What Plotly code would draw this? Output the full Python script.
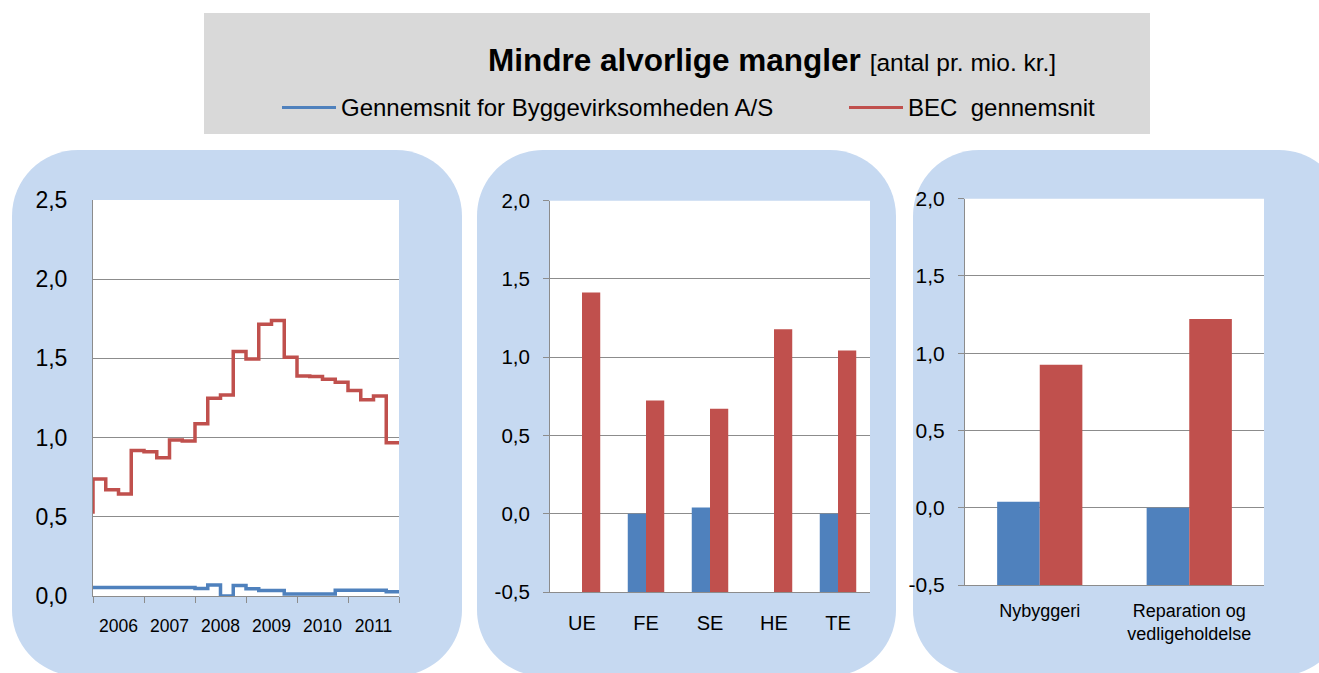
import plotly.graph_objects as go

W, H = 1319, 673

# ---------------- data ----------------
quarters = ["2006K1", "2006K2", "2006K3", "2006K4",
            "2007K1", "2007K2", "2007K3", "2007K4",
            "2008K1", "2008K2", "2008K3", "2008K4",
            "2009K1", "2009K2", "2009K3", "2009K4",
            "2010K1", "2010K2", "2010K3", "2010K4",
            "2011K1", "2011K2", "2011K3", "2011K4"]
years = ["2006", "2007", "2008", "2009", "2010", "2011"]

bec_start = 0.52
bec_quarterly = [0.739, 0.671, 0.644, 0.918, 0.911, 0.873, 0.985, 0.979,
                 1.088, 1.248, 1.269, 1.543, 1.496, 1.715, 1.740, 1.507,
                 1.389, 1.385, 1.368, 1.350, 1.298, 1.239, 1.263, 0.968]
byg_quarterly = [0.053, 0.053, 0.053, 0.053, 0.053, 0.053, 0.053, 0.053,
                 0.048, 0.069, 0.000, 0.067, 0.046, 0.034, 0.034, 0.013,
                 0.013, 0.013, 0.013, 0.036, 0.036, 0.036, 0.036, 0.027]

trades = ["UE", "FE", "SE", "HE", "TE"]
byg_trade = [None, 0.00, 0.04, None, 0.00]
bec_trade = [1.414, 0.723, 0.670, 1.179, 1.043]

work_types = ["Nybyggeri", "Reparation og<br>vedligeholdelse"]
byg_type = [0.039, 0.000]
bec_type = [0.925, 1.221]

line_ticks = [0.0, 0.5, 1.0, 1.5, 2.0, 2.5]
line_ticklabels = ["0,0", "0,5", "1,0", "1,5", "2,0", "2,5"]
bar_ticks = [-0.5, 0.0, 0.5, 1.0, 1.5, 2.0]
bar_ticklabels = ["-0,5", "0,0", "0,5", "1,0", "1,5", "2,0"]

name_byg = "Gennemsnit for Byggevirksomheden A/S"
name_bec = "BEC  gennemsnit"

BLUE = "#4F81BD"
RED = "#C0504D"
PANEL = "#C6D9F1"
HEADER = "#D9D9D9"
GRID = "#8C8C8C"
FONT = "Liberation Sans, Arial, sans-serif"


def qx(label):
    return int(label[:4]) + (int(label[-1]) - 1) / 4.0


x_q = [qx(q) for q in quarters]
x_end = int(years[-1]) + 1

# step series (hv)
bec_x = [x_q[0]] + x_q + [x_end]
bec_y = [bec_start] + bec_quarterly + [bec_quarterly[-1]]
byg_x = x_q + [x_end]
byg_y = byg_quarterly + [byg_quarterly[-1]]

AXMIN_BAR = bar_ticks[0]


def bar_len(vals):
    return [None if v is None else v - AXMIN_BAR for v in vals]


fig = go.Figure()

fig.add_trace(go.Scatter(x=byg_x, y=byg_y, mode="lines", line_shape="hv",
                         line=dict(color=BLUE, width=3.5), name=name_byg,
                         xaxis="x", yaxis="y", showlegend=False))
fig.add_trace(go.Scatter(x=bec_x, y=bec_y, mode="lines", line_shape="hv",
                         line=dict(color=RED, width=3.5), name=name_bec,
                         xaxis="x", yaxis="y", showlegend=False))

fig.add_trace(go.Bar(x=trades, y=bar_len(byg_trade), base=AXMIN_BAR,
                     marker=dict(color=BLUE, line=dict(width=0)), name=name_byg,
                     xaxis="x2", yaxis="y2", showlegend=False))
fig.add_trace(go.Bar(x=trades, y=bar_len(bec_trade), base=AXMIN_BAR,
                     marker=dict(color=RED, line=dict(width=0)), name=name_bec,
                     xaxis="x2", yaxis="y2", showlegend=False))

fig.add_trace(go.Bar(x=work_types, y=bar_len(byg_type), base=AXMIN_BAR,
                     marker=dict(color=BLUE, line=dict(width=0)), name=name_byg,
                     xaxis="x3", yaxis="y3", showlegend=False))
fig.add_trace(go.Bar(x=work_types, y=bar_len(bec_type), base=AXMIN_BAR,
                     marker=dict(color=RED, line=dict(width=0)), name=name_bec,
                     xaxis="x3", yaxis="y3", showlegend=False))


def fx(p):
    return p / W


def fy(p):
    return 1 - p / H


def rounded(x0, y0, x1, y1, r):
    k = 0.5523 * r

    def P(x, y):
        return f"{fx(x):.5f},{fy(y):.5f}"
    path = (f"M {P(x0 + r, y0)} L {P(x1 - r, y0)} "
            f"C {P(x1 - r + k, y0)} {P(x1, y0 + r - k)} {P(x1, y0 + r)} "
            f"L {P(x1, y1 - r)} "
            f"C {P(x1, y1 - r + k)} {P(x1 - r + k, y1)} {P(x1 - r, y1)} "
            f"L {P(x0 + r, y1)} "
            f"C {P(x0 + r - k, y1)} {P(x0, y1 - r + k)} {P(x0, y1 - r)} "
            f"L {P(x0, y0 + r)} "
            f"C {P(x0, y0 + r - k)} {P(x0 + r - k, y0)} {P(x0 + r, y0)} Z")
    return dict(type="path", path=path, xref="paper", yref="paper",
                fillcolor=PANEL, line=dict(width=0), layer="below")


shapes = [
    dict(type="rect", xref="paper", yref="paper", x0=fx(204), x1=fx(1150),
         y0=fy(134), y1=fy(13), fillcolor=HEADER, line=dict(width=0), layer="below"),
    rounded(12, 150, 462, 676, 66),
    rounded(477, 150, 896, 676, 66),
    rounded(913, 150, 1345, 676, 66),
]
for ax in ["", "2", "3"]:
    shapes.append(dict(type="rect", xref=f"x{ax} domain", yref=f"y{ax} domain",
                       x0=0, x1=1, y0=0, y1=1, fillcolor="white",
                       line=dict(width=0), layer="below"))
# legend samples
shapes.append(dict(type="line", xref="paper", yref="paper", x0=fx(282), x1=fx(336),
                   y0=fy(107.5), y1=fy(107.5), line=dict(color=BLUE, width=3)))
shapes.append(dict(type="line", xref="paper", yref="paper", x0=fx(849), x1=fx(903),
                   y0=fy(107.5), y1=fy(107.5), line=dict(color=RED, width=3)))

annotations = [
    dict(xref="paper", yref="paper", x=fx(486), y=fy(60), xanchor="left", yanchor="middle",
         showarrow=False,
         text="<b>Mindre alvorlige mangler</b> <span style='font-size:24.5px'>[antal pr. mio. kr.]</span>",
         font=dict(size=31.5, color="black", family=FONT)),
    dict(xref="paper", yref="paper", x=fx(339), y=fy(108), xanchor="left", yanchor="middle",
         showarrow=False, text=name_byg, font=dict(size=24, color="black", family=FONT)),
    dict(xref="paper", yref="paper", x=fx(906), y=fy(108), xanchor="left", yanchor="middle",
         showarrow=False, text="BEC\u00a0 gennemsnit", font=dict(size=24, color="black", family=FONT)),
]

# plot areas in pixels
L = dict(x0=93, x1=399, y0=200, y1=596)
M = dict(x0=550, x1=870, y0=200.7, y1=592)
R = dict(x0=965, x1=1264, y0=198.7, y1=585)


def dom(b):
    return [fx(b["x0"]), fx(b["x1"])], [fy(b["y1"]), fy(b["y0"])]


lx, ly = dom(L)
mx, my = dom(M)
rx, ry = dom(R)

common_y = dict(showgrid=True, gridcolor=GRID, gridwidth=1, showline=True,
                linecolor=GRID, linewidth=1, zeroline=False, automargin=False,
                tickmode="array")

fig.update_layout(
    width=W, height=H, autosize=False,
    margin=dict(l=0, r=0, t=0, b=0, pad=0, autoexpand=False),
    paper_bgcolor="white",
    plot_bgcolor="rgba(0,0,0,0)",
    font=dict(family=FONT, color="black"),
    barmode="group", bargap=0.43, bargroupgap=0,
    shapes=shapes,
    annotations=annotations,
    xaxis=dict(domain=lx, anchor="y", range=[x_q[0], x_end], automargin=False,
               tickmode="array", tickvals=[int(y) + 0.5 for y in years], ticktext=years,
               ticks="", showgrid=False, showline=True, linecolor=GRID, linewidth=1,
               zeroline=False, tickfont=dict(size=17.5), ticklabelstandoff=14,
               minor=dict(tick0=x_q[0], dtick=1, ticks="outside", ticklen=6,
                          tickcolor=GRID, tickwidth=1, showgrid=False)),
    yaxis=dict(domain=ly, anchor="x", range=[line_ticks[0], line_ticks[-1]], ticks="",
               tickvals=line_ticks, ticktext=line_ticklabels,
               tickfont=dict(size=23), ticklabelstandoff=20, **common_y),
    xaxis2=dict(domain=mx, anchor="y2", type="category", ticks="", showgrid=False,
                showline=True, linecolor=GRID, linewidth=1, automargin=False,
                tickfont=dict(size=20), ticklabelstandoff=13),
    yaxis2=dict(domain=my, anchor="x2", range=[bar_ticks[0], bar_ticks[-1]], ticks="outside",
                tickvals=bar_ticks, ticktext=bar_ticklabels,
                ticklen=6, tickcolor=GRID, tickfont=dict(size=20.5),
                ticklabelstandoff=9, **common_y),
    xaxis3=dict(domain=rx, anchor="y3", type="category", ticks="", showgrid=False,
                showline=True, linecolor=GRID, linewidth=1, automargin=False,
                tickfont=dict(size=18), ticklabelstandoff=9),
    yaxis3=dict(domain=ry, anchor="x3", range=[bar_ticks[0], bar_ticks[-1]], ticks="outside",
                tickvals=bar_ticks, ticktext=bar_ticklabels,
                ticklen=6, tickcolor=GRID, tickfont=dict(size=21),
                ticklabelstandoff=9, **common_y),
)

fig.write_html("out.html", config={"responsive": False, "displayModeBar": False},
               post_script="document.body.style.margin='0';document.body.style.overflow='hidden';")
